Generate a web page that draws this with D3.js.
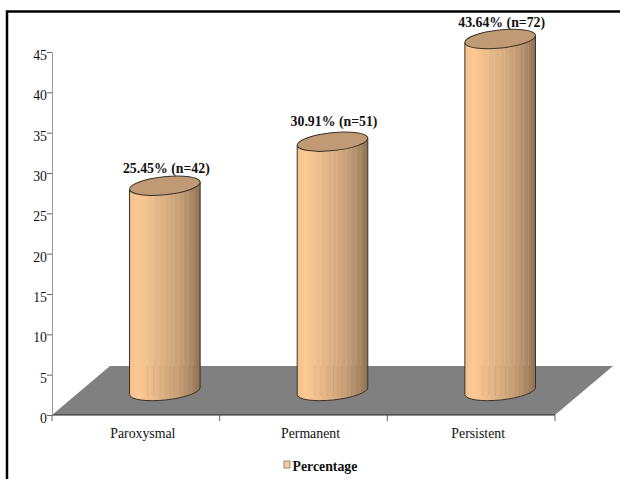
<!DOCTYPE html>
<html>
<head>
<meta charset="utf-8">
<script src="https://cdnjs.cloudflare.com/ajax/libs/d3/7.8.5/d3.min.js"></script>
<style>
  html, body { margin: 0; padding: 0; background: #fff; }
  svg { display: block; }
  text { font-family: "Liberation Serif", serif; fill: #111; }
</style>
</head>
<body>
<div id="chart"></div>
<script>
var categories = ['Paroxysmal', 'Permanent', 'Persistent'];
var percentages = [25.45, 30.91, 43.64];
var counts = [42, 51, 72];
var yTicks = [0, 5, 10, 15, 20, 25, 30, 35, 40, 45];
var seriesName = 'Percentage';

var width = 620, height = 479;
var axisLeft = 52, axisRight = 555, axisBottom = 415, axisTop = 52;
// floor is a parallelogram pushed back from the axis line
var depthX = 58, depthY = 49;
var radius = 35.5;
var fontSize = 13.8;

var svg = d3.select('#chart').append('svg')
  .attr('width', width)
  .attr('height', height);

var x = d3.scaleBand().domain(categories).range([axisLeft, axisRight]);
var y = d3.scaleLinear().domain([0, 45]).range([axisBottom, axisTop]);

// picture frame, open on the right and at the bottom
svg.append('path')
  .attr('d', 'M7,479V11.5H620')
  .attr('fill', 'none')
  .attr('stroke', '#000')
  .attr('stroke-width', 2.5);

// floor
svg.append('path')
  .attr('d', d3.line()([
    [axisLeft, axisBottom],
    [axisRight, axisBottom],
    [axisRight + depthX, axisBottom - depthY],
    [axisLeft + depthX, axisBottom - depthY]
  ]) + 'Z')
  .attr('fill', '#808080');
svg.append('line')
  .attr('x1', axisLeft).attr('x2', axisRight)
  .attr('y1', axisBottom).attr('y2', axisBottom)
  .attr('stroke', '#222').attr('stroke-width', 1);

// axes
var yAxis = d3.axisLeft(y).tickValues(yTicks).tickSize(5).tickSizeOuter(0);
var gy = svg.append('g')
  .attr('transform', 'translate(' + axisLeft + ',0)')
  .call(yAxis);
gy.select('.domain').attr('stroke', '#999');
gy.selectAll('.tick line').attr('stroke', '#666');
gy.selectAll('.tick text')
  .attr('font-size', fontSize)
  .attr('font-family', '"Liberation Serif", serif')
  .attr('fill', '#111')
  .attr('x', -5)
  .attr('y', 3);

var xAxis = d3.axisBottom(x).tickSize(0).tickSizeOuter(0);
var gx = svg.append('g')
  .attr('transform', 'translate(0,' + axisBottom + ')')
  .call(xAxis);
gx.select('.domain').remove();
gx.selectAll('.tick text')
  .attr('font-size', fontSize)
  .attr('font-family', '"Liberation Serif", serif')
  .attr('fill', '#111')
  .attr('x', 7)
  .attr('y', 13);

// category separators below the floor
var separators = [axisLeft].concat(categories.map(function(c) {
  return x(c) + x.bandwidth();
}));
svg.selectAll('.sep').data(separators).enter().append('line')
  .attr('class', 'sep')
  .attr('x1', function(d) { return d; }).attr('x2', function(d) { return d; })
  .attr('y1', axisBottom).attr('y2', axisBottom + 6)
  .attr('stroke', '#666');

// cylinder body shading, darker to the right
var defs = svg.append('defs');
var shade = d3.scaleLinear()
  .domain([0, 0.12, 0.4, 0.7, 0.9, 1])
  .range(['#f4c08c', '#ffc994', '#e3b687', '#c7a077', '#a58562', '#8c7154']);
var grad = defs.append('linearGradient').attr('id', 'body')
  .attr('x1', 0).attr('x2', 1).attr('y1', 0).attr('y2', 0);
d3.range(0, 1.001, 0.05).forEach(function(t) {
  grad.append('stop').attr('offset', t).attr('stop-color', shade(t));
});

// faint vertical streaks of the facetted surface, as parts of the width
var streaks = [0.24, 0.33, 0.42, 0.5, 0.56, 0.62, 0.7, 0.76, 0.83, 0.9];

var baseDx = depthX / 2, baseDy = depthY / 2 - 0.5;
var tilt = -6;
var ry = 9;

function ellipsePoint(cx, cy, deg) {
  var a = deg * Math.PI / 180, t = tilt * Math.PI / 180;
  var ex = radius * Math.cos(a), ey = ry * Math.sin(a);
  return [cx + ex * Math.cos(t) - ey * Math.sin(t),
          cy + ex * Math.sin(t) + ey * Math.cos(t)];
}

var labelGap = [13, 16, 12];
var floorY = axisBottom - depthY;

var bars = svg.selectAll('.bar')
  .data(categories.map(function(c, i) {
    return { name: c, value: percentages[i], n: counts[i], i: i };
  }))
  .enter().append('g').attr('class', 'bar');

bars.each(function(d) {
  var g = d3.select(this);
  var cx = x(d.name) + x.bandwidth() / 2 + baseDx;
  var cyBase = axisBottom - baseDy;
  var cyTop = y(d.value) - baseDy;
  var l = ellipsePoint(cx, cyTop, 180), r = ellipsePoint(cx, cyTop, 0);
  var lb = ellipsePoint(cx, cyBase, 180), rb = ellipsePoint(cx, cyBase, 0);
  var body = 'M' + l + 'L' + lb +
      'A' + radius + ',' + ry + ' ' + tilt + ' 0 0 ' + rb +
      'L' + r + 'Z';

  g.append('path').attr('d', body).attr('fill', 'url(#body)');

  // streaks are light above the floor's back edge, dark in front of it
  streaks.forEach(function(s) {
    var sx = cx - radius + s * radius * 2;
    g.append('line')
      .attr('x1', sx).attr('x2', sx)
      .attr('y1', cyTop + 6).attr('y2', floorY)
      .attr('stroke', '#fff').attr('stroke-opacity', 0.1);
    g.append('line')
      .attr('x1', sx + 1).attr('x2', sx + 1)
      .attr('y1', floorY).attr('y2', cyBase + 5)
      .attr('stroke', '#7a5a3a').attr('stroke-opacity', 0.1);
  });

  g.append('path').attr('d', body)
    .attr('fill', 'none')
    .attr('stroke', '#3a3226')
    .attr('stroke-width', 1);

  g.append('ellipse')
    .attr('rx', radius).attr('ry', ry)
    .attr('transform', 'translate(' + cx + ',' + cyTop + ') rotate(' + tilt + ')')
    .attr('fill', '#bf9a75')
    .attr('stroke', '#3a3226')
    .attr('stroke-width', 1);

  g.append('text')
    .attr('x', cx + 1.5)
    .attr('y', cyTop - labelGap[d.i])
    .attr('text-anchor', 'middle')
    .attr('font-size', fontSize)
    .attr('font-weight', 'bold')
    .text(d.value.toFixed(2) + '% (n=' + d.n + ')');
});

// legend
svg.append('rect')
  .attr('x', 284).attr('y', 461).attr('width', 6).attr('height', 7)
  .attr('fill', '#ffcc99').attr('stroke', '#777').attr('stroke-width', 0.8);
svg.append('text')
  .attr('x', 292.5).attr('y', 470.5)
  .attr('font-size', fontSize)
  .attr('font-weight', 'bold')
  .text(seriesName);
</script>
</body>
</html>
